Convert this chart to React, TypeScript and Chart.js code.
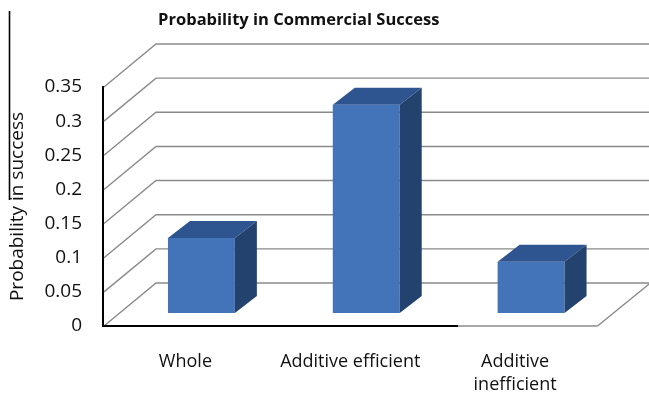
import React, { useEffect, useRef } from "react";
import { Chart, registerables } from "chart.js";

Chart.register(...registerables);

const chartTitle = "Probability in Commercial Success";
const yAxisTitle = "Probability in success";
const categories: (string | string[])[] = ["Whole", "Additive efficient", ["Additive", "inefficient"]];
const probabilities = [0.11, 0.305, 0.075];
const yTickLabels = ["0", "0.05", "0.1", "0.15", "0.2", "0.25", "0.3", "0.35"];

const FONT = "'Open Sans', 'DejaVu Sans', sans-serif";
const DEPTH_X = 53;
const DEPTH_Y = 43;
const BAR_SHIFT_X = 16;
const BAR_SHIFT_Y = 13;
const BAR_DEPTH_X = 22;
const BAR_DEPTH_Y = 17;

const threeD = {
  id: "threeD",
  beforeDatasetsDraw(chart: any) {
    const { ctx, chartArea, scales, width } = chart;
    const y = scales.y;
    const left = chartArea.left;
    const right = chartArea.right;
    ctx.save();
    ctx.strokeStyle = "#8a8a8a";
    ctx.lineWidth = 1.4;
    y.ticks.forEach((t: any) => {
      const py = y.getPixelForValue(t.value);
      ctx.beginPath();
      ctx.moveTo(left + 1, py);
      ctx.lineTo(left + DEPTH_X, py - DEPTH_Y);
      ctx.lineTo(width, py - DEPTH_Y);
      ctx.stroke();
    });
    const base = y.getPixelForValue(0);
    ctx.beginPath();
    ctx.moveTo(right, base);
    ctx.lineTo(right + DEPTH_X, base - DEPTH_Y);
    ctx.stroke();
    ctx.beginPath();
    ctx.moveTo(left + 300, base);
    ctx.lineTo(right, base);
    ctx.stroke();
    ctx.strokeStyle = "#000";
    ctx.lineWidth = 2.2;
    ctx.beginPath();
    ctx.moveTo(left, base);
    ctx.lineTo(left + 355, base);
    ctx.stroke();
    ctx.restore();
    ctx.save();
    ctx.translate(BAR_SHIFT_X, -BAR_SHIFT_Y);
  },
  afterDatasetsDraw(chart: any) {
    const { ctx } = chart;
    const meta = chart.getDatasetMeta(0);
    meta.data.forEach((bar: any) => {
      const p = bar.getProps(["x", "y", "base", "width"], true);
      const x0 = p.x - p.width / 2;
      const x1 = p.x + p.width / 2;
      ctx.fillStyle = "#2f5590";
      ctx.beginPath();
      ctx.moveTo(x0, p.y);
      ctx.lineTo(x1, p.y);
      ctx.lineTo(x1 + BAR_DEPTH_X, p.y - BAR_DEPTH_Y);
      ctx.lineTo(x0 + BAR_DEPTH_X, p.y - BAR_DEPTH_Y);
      ctx.closePath();
      ctx.fill();
      ctx.fillStyle = "#24426e";
      ctx.beginPath();
      ctx.moveTo(x1, p.y);
      ctx.lineTo(x1 + BAR_DEPTH_X, p.y - BAR_DEPTH_Y);
      ctx.lineTo(x1 + BAR_DEPTH_X, p.base - BAR_DEPTH_Y);
      ctx.lineTo(x1, p.base);
      ctx.closePath();
      ctx.fill();
    });
    ctx.restore();
  },
  afterDraw(chart: any) {
    const { ctx } = chart;
    ctx.save();
    ctx.strokeStyle = "#000";
    ctx.lineWidth = 1.6;
    ctx.beginPath();
    ctx.moveTo(9.5, 11);
    ctx.lineTo(9.5, 200);
    ctx.stroke();
    ctx.restore();
  },
};

export default function App() {
  const ref = useRef<HTMLCanvasElement>(null);
  useEffect(() => {
    if (!ref.current) return;
    const chart = new Chart(ref.current, {
      type: "bar",
      data: {
        labels: categories as any,
        datasets: [
          {
            data: probabilities,
            backgroundColor: "#4374b9",
            borderWidth: 0,
            barPercentage: 0.406,
            categoryPercentage: 1,
            clip: false as any,
          },
        ],
      },
      options: {
        animation: false,
        responsive: true,
        maintainAspectRatio: false,
        layout: { padding: { left: 0, right: 51.5, top: 0, bottom: 0 } },
        plugins: {
          legend: { display: false },
          tooltip: { enabled: false },
          title: {
            display: true,
            text: chartTitle,
            color: "#111",
            font: { family: FONT, size: 16.5, weight: "bold", lineHeight: 1.2 },
            padding: { top: 10, bottom: 87 - 10 - 19.8 },
          },
        },
        scales: {
          x: {
            grid: { display: false },
            border: { display: false },
            ticks: {
              color: "#111",
              font: { family: FONT, size: 18, lineHeight: 1.3 },
              padding: 16,
              maxRotation: 0,
              autoSkip: false,
            },
            afterFit: (s: any) => {
              s.height = 71;
            },
          },
          y: {
            min: 0,
            max: 0.35,
            grid: { display: false, drawTicks: false },
            border: { display: true, color: "#000", width: 2 },
            ticks: {
              stepSize: 0.05,
              color: "#111",
              padding: 21,
              font: { family: FONT, size: 19 },
              callback: (_v: any, i: number) => yTickLabels[i],
            },
            title: {
              display: true,
              text: yAxisTitle,
              color: "#111",
              font: { family: FONT, size: 19, lineHeight: 1.2 },
              padding: { top: 6, bottom: 0 },
            },
            afterFit: (s: any) => {
              s.width = 103;
            },
          },
        },
      },
      plugins: [threeD],
    });
    return () => chart.destroy();
  }, []);
  return (
    <div style={{ position: "fixed", left: 0, top: 0, width: 649, height: 397, background: "#fff" }}>
      <canvas ref={ref} />
    </div>
  );
}
